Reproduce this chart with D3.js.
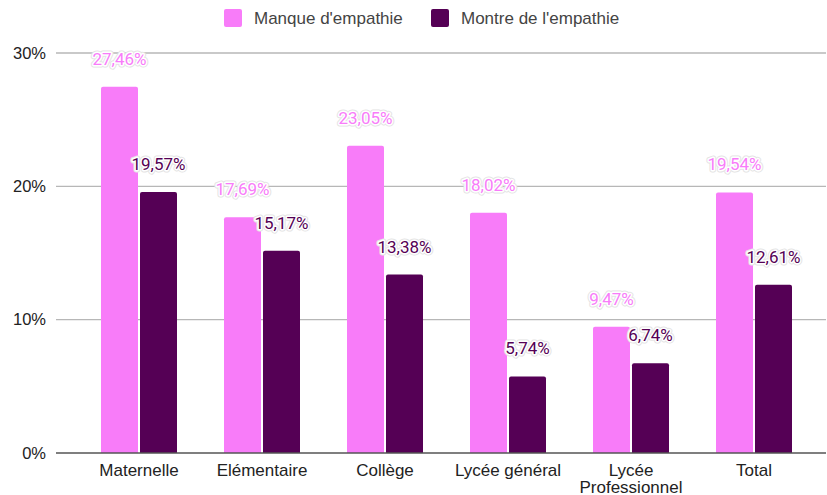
<!DOCTYPE html>
<meta charset="utf-8">
<style>
  body { margin: 0; background: #fff; }
  text { font-family: "Liberation Sans", Arial, sans-serif; }
  .lbl { font-family: Roboto, Arial, sans-serif; paint-order: stroke; stroke-linejoin: round; }
</style>
<body>
<script src="https://cdn.jsdelivr.net/npm/d3@7"></script>
<script>

var categories = ["Maternelle", "Elémentaire", "Collège", "Lycée général", "Lycée\nProfessionnel", "Total"];
var manque = [27.46, 17.69, 23.05, 18.02, 9.47, 19.54];
var montre = [19.57, 15.17, 13.38, 5.74, 6.74, 12.61];
var seriesNames = ["Manque d'empathie", "Montre de l'empathie"];
var colors = ["#f87cf9", "#550055"];
var yTicks = [0, 10, 20, 30];

var width = 827, height = 495;

var svg = d3.select("body").append("svg")
    .attr("width", width)
    .attr("height", height);

var x = d3.scaleBand()
    .domain(categories)
    .range([77.5, 815.5]);

var y = d3.scaleLinear().domain([0, 30]).range([453, 53]);

// gridlines
svg.append("g").selectAll("line")
  .data(yTicks.filter(function(d) { return d > 0; }))
  .enter().append("line")
    .attr("x1", 56).attr("x2", 826)
    .attr("y1", function(d) { return y(d); })
    .attr("y2", function(d) { return y(d); })
    .attr("stroke", "#b7b7b7")
    .attr("stroke-width", 1.3);

// y tick labels
svg.append("g").selectAll("text")
  .data(yTicks)
  .enter().append("text")
    .attr("x", 46)
    .attr("y", function(d) { return y(d); })
    .attr("dy", "0.35em")
    .attr("text-anchor", "end")
    .attr("font-size", 16.5)
    .attr("fill", "#222")
    .text(function(d) { return d + "%"; });

var barW = 37, gap = 2;
var series = [manque, montre];

function labelX(i, s) {
  var cx = x(categories[i]) + x.bandwidth() / 2;
  return s === 0 ? cx - gap / 2 - barW / 2 : cx + gap / 2 + barW / 2;
}

series.forEach(function(vals, s) {
  var g = svg.append("g");
  g.selectAll("path")
    .data(vals)
    .enter().append("path")
      .attr("fill", colors[s])
      .attr("d", function(d, i) {
        var cx = x(categories[i]) + x.bandwidth() / 2;
        var x0 = s === 0 ? cx - gap / 2 - barW : cx + gap / 2;
        var y0 = y(d), y1 = y(0), r = 2;
        return "M" + x0 + "," + y1 +
               "V" + (y0 + r) +
               "Q" + x0 + "," + y0 + " " + (x0 + r) + "," + y0 +
               "H" + (x0 + barW - r) +
               "Q" + (x0 + barW) + "," + y0 + " " + (x0 + barW) + "," + (y0 + r) +
               "V" + y1 + "Z";
      });
});

// data labels drawn after all bars so halos sit on top
series.forEach(function(vals, s) {
  var g = svg.append("g");
  // faint grey outline of the halo
  g.selectAll("text.halo")
    .data(vals)
    .enter().append("text")
      .attr("class", "lbl halo")
      .attr("x", function(d, i) { return labelX(i, s); })
      .attr("y", function(d) { return y(d) - 22; })
      .attr("text-anchor", "middle")
      .attr("font-size", 17)
      .attr("fill", "none")
      .attr("stroke", "#e4e4e4")
      .attr("stroke-width", 5)
      .text(function(d) { return d.toFixed(2).replace(".", ",") + "%"; });
  g.selectAll("text.val")
    .data(vals)
    .enter().append("text")
      .attr("class", "lbl val")
      .attr("x", function(d, i) { return labelX(i, s); })
      .attr("y", function(d) { return y(d) - 22; })
      .attr("text-anchor", "middle")
      .attr("font-size", 17)
      .attr("fill", colors[s])
      .attr("stroke", "#fff")
      .attr("stroke-width", 3)
      .text(function(d) { return d.toFixed(2).replace(".", ",") + "%"; });
});

// baseline
svg.append("line")
  .attr("x1", 56).attr("x2", 826)
  .attr("y1", y(0)).attr("y2", y(0))
  .attr("stroke", "#555")
  .attr("stroke-width", 1.5);

// x labels
var xl = svg.append("g").selectAll("text")
  .data(categories)
  .enter().append("text")
    .attr("x", function(d) { return x(d) + x.bandwidth() / 2; })
    .attr("y", 476)
    .attr("text-anchor", "middle")
    .attr("font-size", 17)
    .attr("fill", "#222");

xl.each(function(d) {
  var lines = d.split("\n");
  var t = d3.select(this);
  lines.forEach(function(l, k) {
    t.append("tspan")
      .attr("x", x(d) + x.bandwidth() / 2)
      .attr("dy", k === 0 ? 0 : 17)
      .text(l);
  });
});

// legend
var legendX = [224, 431];
var leg = svg.append("g").selectAll("g")
  .data(seriesNames)
  .enter().append("g")
    .attr("transform", function(d, i) { return "translate(" + legendX[i] + ",9)"; });

leg.append("rect")
  .attr("width", 18).attr("height", 18)
  .attr("rx", 2)
  .attr("fill", function(d, i) { return colors[i]; });

leg.append("text")
  .attr("x", 30).attr("y", 9)
  .attr("dy", "0.35em")
  .attr("font-size", 17)
  .attr("fill", "#444")
  .text(function(d) { return d; });

</script>
</body>
</html>
